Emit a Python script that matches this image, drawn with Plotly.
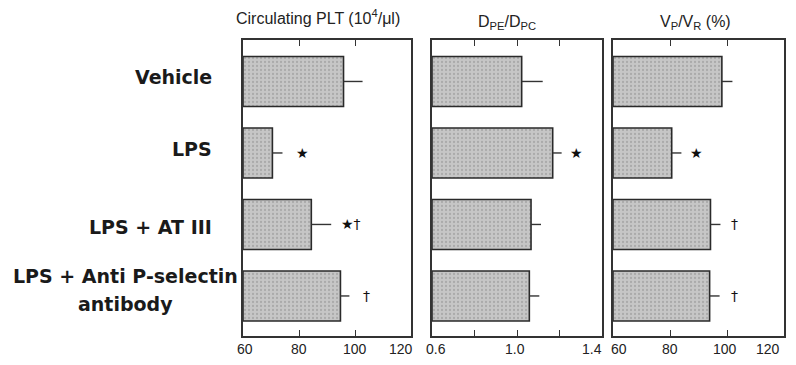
import plotly.graph_objects as go

groups = ["Vehicle", "LPS", "LPS + AT III", "LPS + Anti P-selectin<br>antibody"]
plt_mean = [95.9, 70.5, 84.4, 94.8]
plt_err = [6.8, 3.6, 7.1, 3.2]
dpe_mean = [1.022, 1.168, 1.066, 1.058]
dpe_err = [0.099, 0.042, 0.047, 0.047]
vpr_mean = [98.2, 80.6, 94.2, 93.9]
vpr_err = [3.7, 3.4, 3.5, 3.5]

plt_marks = ["", "★", "★†", "†"]
dpe_marks = ["", "★", "", ""]
vpr_marks = ["", "★", "†", "†"]
plt_mark_x = [None, 81.3, 98.5, 104.0]
dpe_mark_x = [None, 1.281, None, None]
vpr_mark_x = [None, 89.3, 102.7, 102.7]

titles = ["Circulating PLT (10<sup>4</sup>/μl)", "D<sub>PE</sub>/D<sub>PC</sub>", "V<sub>P</sub>/V<sub>R</sub> (%)"]
ranges = [[60, 120], [0.6, 1.4], [60, 120]]
tickvals = [[60, 80, 100, 120], [0.6, 0.8, 1.0, 1.2, 1.4], [60, 80, 100, 120]]
ticktext = [["60", "80", "100", "120"], ["0.6", "", "1.0", "", "1.4"], ["60", "80", "100", "120"]]
label_shift = [[2, 0, 0, -10], [4, 0, -2, 0, -10], [6, 0, -2, -16]]

# page body has an 8px margin; work in screen pixels and convert
OFF = 8
W, H = 796 - 2 * OFF, 365 - 2 * OFF


def px(x):
    return (x - OFF) / W


def py(y):
    return 1 - (y - OFF) / H


doms = [[px(243), px(411)], [px(432), px(602)], [px(613), px(784)]]
ydom = [py(336), py(40)]

fig = go.Figure()
ypos = list(range(len(groups)))
series = [(plt_mean, plt_err), (dpe_mean, dpe_err), (vpr_mean, vpr_err)]
for i, (m, e) in enumerate(series):
    base = ranges[i][0]
    fig.add_trace(go.Bar(
        x=[v - base for v in m], base=base, y=ypos, orientation="h", width=0.70,
        marker=dict(color="#bcbcbc", line=dict(color="#2a2a2a", width=1.6),
                    pattern=dict(shape=".", fgcolor="#8e8e8e", bgcolor="#c6c6c6", size=4, solidity=0.25)),
        error_x=dict(type="data", array=e, arrayminus=[0] * len(e), symmetric=False,
                     color="#333333", thickness=1.4, width=0),
        xaxis=f"x{i + 1 if i else ''}", yaxis=f"y{i + 1 if i else ''}",
        showlegend=False, hoverinfo="skip",
    ))

layout = dict(width=W, height=H, margin=dict(l=0, r=0, t=0, b=0, autoexpand=False),
              plot_bgcolor="white", paper_bgcolor="white", barmode="overlay",
              font=dict(family="Liberation Sans, Arial, sans-serif", color="#222"))
for i in range(3):
    sx = "" if i == 0 else str(i + 1)
    layout[f"xaxis{sx}"] = dict(domain=doms[i], range=ranges[i], anchor=f"y{sx}",
                                tickvals=tickvals[i], ticktext=[""] * len(tickvals[i]),
                                ticks="inside", ticklen=6, tickcolor="#333", tickwidth=1.3,
                                showline=True, linecolor="#333", linewidth=1.5, mirror="ticks",
                                showgrid=False, zeroline=False, automargin=False)
    layout[f"yaxis{sx}"] = dict(domain=ydom, range=[3.56, -0.58], anchor=f"x{sx}",
                                showticklabels=False, ticks="", showline=True, linecolor="#333",
                                linewidth=1.5, mirror=True, showgrid=False, zeroline=False,
                                automargin=False)
fig.update_layout(**layout)

ann = []
# tick labels
for i in range(3):
    sx = "" if i == 0 else str(i + 1)
    for tv, tt, sh in zip(tickvals[i], ticktext[i], label_shift[i]):
        if tt:
            ann.append(dict(text=tt, x=tv, y=py(349), xref=f"x{sx}", yref="paper", xshift=sh,
                            showarrow=False, font=dict(size=14, color="#222"),
                            xanchor="center", yanchor="middle"))
title_x = [318, 507, 695]
title_y = [17, 22, 22]
for i in range(3):
    ann.append(dict(text=titles[i], x=px(title_x[i]), y=py(title_y[i]), xref="paper", yref="paper",
                    showarrow=False, font=dict(size=16, color="#222"), xanchor="center", yanchor="middle"))
label_y = [77, 149, 227, 276]
lab_font = dict(size=19, color="#1a1a1a", family="DejaVu Sans, Liberation Sans, sans-serif")
for k, (g, yy) in enumerate(zip(groups, label_y)):
    lines = g.split("<br>")
    if len(lines) == 1:
        ann.append(dict(text=f"<b>{g}</b>", x=px(214), y=py(yy), xref="paper", yref="paper",
                        showarrow=False, font=lab_font, xanchor="right", yanchor="middle"))
    else:
        for n, ln in enumerate(lines):
            ann.append(dict(text=f"<b>{ln}</b>", x=px(126), y=py(yy + 28 * n),
                            xref="paper", yref="paper", showarrow=False, font=lab_font,
                            xanchor="center", yanchor="middle"))
marks = [(plt_marks, plt_mark_x), (dpe_marks, dpe_mark_x), (vpr_marks, vpr_mark_x)]
for i, (mk, mx) in enumerate(marks):
    sx = "" if i == 0 else str(i + 1)
    for j, (t, xv) in enumerate(zip(mk, mx)):
        if t:
            ann.append(dict(text=t, x=xv, y=j, xref=f"x{sx}", yref=f"y{sx}", showarrow=False,
                            font=dict(size=14, color="#111", family="DejaVu Sans"), xanchor="center"))
fig.update_layout(annotations=ann)

fig.write_html("out.html")
